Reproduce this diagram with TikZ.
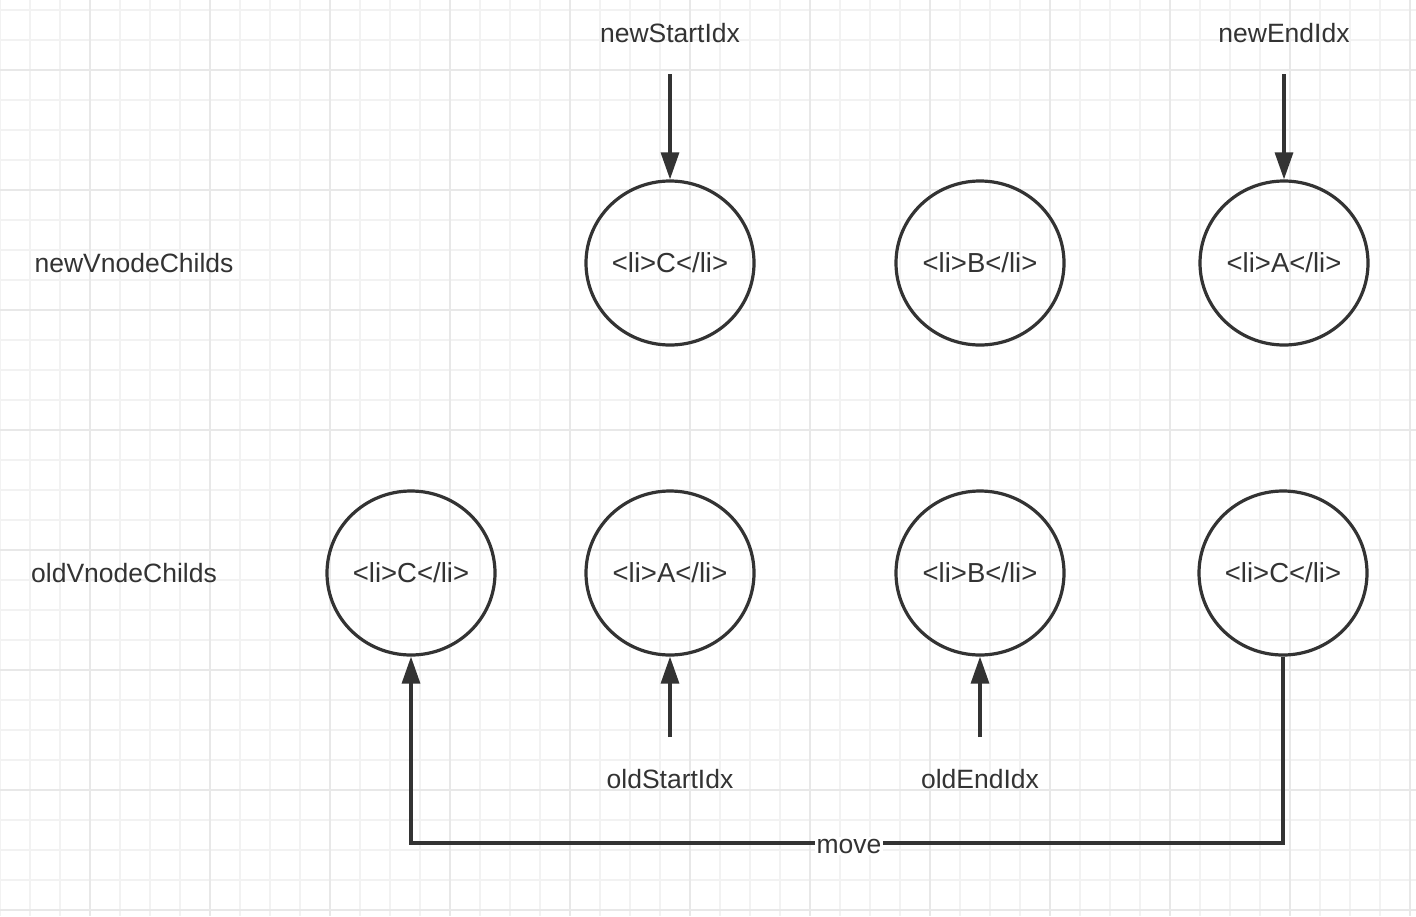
\documentclass[tikz,border=0pt]{standalone}
\usepackage{fontspec}
\setmainfont{Liberation Sans}
\usetikzlibrary{shapes.geometric,arrows.meta}
\definecolor{ink}{HTML}{333333}
\definecolor{gminor}{HTML}{F2F2F2}
\definecolor{gmajor}{HTML}{E8E8E8}
\begin{document}
\begin{tikzpicture}[x=1pt,y=-1pt,
  vnode/.style={ellipse,draw=ink,line width=3.2pt,minimum width=168pt,minimum height=164pt,inner sep=0pt,text=ink,font=\fontsize{27.5}{30}\selectfont},
  lbl/.style={text=ink,font=\fontsize{26.5}{30}\selectfont,inner sep=1pt},
  arr/.style={draw=ink,line width=3.2pt,-{Triangle[width=18pt,length=27pt]}},
  conn/.style={draw=ink,line width=3.2pt}]
\useasboundingbox (0,0) rectangle (1416,916);
\fill[white] (0,0) rectangle (1416,916);
% grid
\foreach \x in {0,30,...,1410} \draw[gminor,line width=2pt] (\x,0) -- (\x,916);
\foreach \y in {10,40,...,910} \draw[gminor,line width=2pt] (0,\y) -- (1416,\y);
\foreach \x in {90,210,...,1410} \draw[gmajor,line width=2pt] (\x,0) -- (\x,916);
\foreach \y in {70,190,...,910} \draw[gmajor,line width=2pt] (0,\y) -- (1416,\y);
% row labels
\node[lbl] (nrow) at (134,263) {newVnodeChilds};
\node[lbl] (orow) at (124,573) {oldVnodeChilds};
% new row
\node[vnode] (n1) at (670,263) {<li>C</li>};
\node[vnode] (n2) at (980,263) {<li>B</li>};
\node[vnode] (n3) at (1284,263) {<li>A</li>};
% old row
\node[vnode] (o1) at (411,573) {<li>C</li>};
\node[vnode] (o2) at (670,573) {<li>A</li>};
\node[vnode] (o3) at (980,573) {<li>B</li>};
\node[vnode] (o4) at (1283,573) {<li>C</li>};
% pointer labels
\node[lbl] (nsi) at (670,33) {newStartIdx};
\node[lbl] (nei) at (1284,33) {newEndIdx};
\node[lbl] (osi) at (670,779) {oldStartIdx};
\node[lbl] (oei) at (980,779) {oldEndIdx};
\coordinate (nsa) at (670,74);
\coordinate (nea) at (1284,74);
\coordinate (osa) at (670,737);
\coordinate (oea) at (980,737);
\draw[arr] (nsa) -- (n1.north);
\draw[arr] (nea) -- (n3.north);
\draw[arr] (osa) -- (o2.south);
\draw[arr] (oea) -- (o3.south);
% move
\coordinate (mc) at (1283,843);
\draw[arr,line join=miter] (o4.south) -- (mc) -| (o1.south);
\node[lbl,fill=white,inner sep=2pt] (mv) at (849,846) {move};
\end{tikzpicture}
\end{document}
